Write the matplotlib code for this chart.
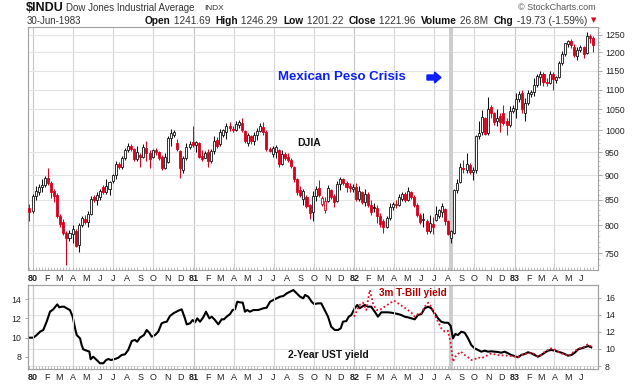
import matplotlib
matplotlib.use('Agg')
import matplotlib.pyplot as plt
import matplotlib.dates as mdates
import matplotlib.transforms as mtrans
from matplotlib.patches import FancyArrow
from matplotlib.ticker import FixedLocator, NullFormatter
import numpy as np
import pandas as pd

W, H, DPI = 638, 384, 100
plt.rcParams['font.family'] = ['Liberation Sans', 'DejaVu Sans']

# ---------------- data ----------------
week_start = '1979-12-24'   # weekly candles (bar plotted at week start)
opens = [834, 828, 858, 866, 876, 880, 894, 884, 868, 860, 818, 806, 786, 777, 784, 790, 764, 801, 812, 806,
         822, 855, 849, 856, 876, 865, 872, 887, 900, 923, 918, 936, 955, 964, 957, 934, 944, 940, 960, 948,
         940, 955, 950, 940, 915, 928, 982, 988, 970, 952, 912, 936, 962, 972, 966, 970, 942, 938, 950, 930,
         952, 978, 968, 990, 996, 1010, 1004, 1000, 1012, 1016, 998, 970, 986, 975, 990, 998, 1008, 996, 958, 945,
         950, 955, 924, 946, 940, 932, 918, 892, 870, 852, 856, 840, 826, 858, 874, 842, 830, 848, 870, 858,
         848, 882, 892, 884, 878, 872, 875, 852, 866, 846, 862, 840, 836, 833, 818, 808, 798, 814, 836, 842,
         840, 852, 862, 850, 866, 856, 840, 820, 810, 808, 790, 802, 810, 818, 826, 832, 808, 776, 786, 870,
         886, 916, 912, 922, 906, 910, 986, 995, 1028, 994, 1056, 1040, 1022, 1035, 1040, 1022, 1012, 1046, 1050, 1076,
         1090, 1040, 1066, 1088, 1094, 1112, 1134, 1142, 1120, 1118, 1142, 1126, 1132, 1170, 1196, 1224, 1232, 1216, 1190, 1206,
         1214, 1198, 1246, 1241.69]
highs = [842, 862, 878, 882, 892, 898, 916, 888, 872, 864, 822, 812, 790, 792, 801, 794, 805, 818, 820, 828,
         857, 860, 866, 872, 880, 891, 888, 903, 930, 928, 942, 960, 970, 968, 960, 963, 948, 968, 975, 955,
         958, 960, 952, 944, 948, 986, 1002, 1000, 980, 955, 942, 970, 974, 1010, 975, 972, 955, 952, 958, 958,
         986, 984, 1004, 1004, 1016, 1020, 1010, 1022, 1025, 1028, 1000, 994, 990, 996, 1005, 1016, 1020, 1000, 962, 964,
         966, 958, 955, 951, 948, 937, 920, 895, 878, 872, 860, 842, 868, 878, 890, 858, 856, 880, 872, 862,
         888, 896, 895, 888, 884, 882, 884, 878, 868, 872, 866, 850, 843, 840, 823, 812, 818, 843, 846, 850,
         862, 866, 866, 875, 868, 860, 843, 824, 823, 812, 820, 816, 837, 832, 843, 834, 810, 792, 872, 892,
         926, 933, 948, 926, 918, 990, 1022, 1048, 1032, 1080, 1062, 1044, 1050, 1042, 1060, 1030, 1058, 1062, 1092, 1096,
         1100, 1078, 1100, 1098, 1130, 1142, 1150, 1146, 1130, 1150, 1146, 1136, 1176, 1205, 1228, 1236, 1238, 1224, 1214, 1220,
         1218, 1258, 1252, 1246.29]
lows = [808, 824, 850, 860, 866, 876, 880, 854, 845, 815, 798, 782, 730, 772, 768, 760, 752, 798, 802, 797,
        820, 845, 839, 849, 862, 862, 860, 884, 893, 914, 914, 932, 950, 952, 930, 930, 918, 938, 930, 916,
        936, 944, 932, 911, 914, 926, 963, 984, 952, 894, 905, 933, 958, 962, 950, 936, 930, 936, 918, 926,
        945, 960, 964, 985, 980, 998, 996, 998, 1006, 996, 970, 963, 968, 966, 977, 996, 990, 952, 950, 940,
        938, 918, 922, 932, 928, 916, 885, 860, 855, 840, 834, 812, 808, 848, 855, 837, 823, 846, 852, 835,
        846, 869, 880, 866, 866, 866, 848, 848, 842, 838, 835, 820, 825, 804, 798, 786, 796, 810, 830, 834,
        838, 848, 846, 848, 852, 836, 816, 802, 798, 785, 786, 785, 808, 814, 816, 800, 782, 768, 784, 864,
        884, 904, 904, 902, 890, 905, 980, 988, 988, 990, 1030, 1012, 1010, 995, 1012, 990, 1008, 1040, 1030, 1068,
        1040, 1022, 1060, 1080, 1084, 1106, 1113, 1109, 1108, 1115, 1100, 1118, 1130, 1165, 1190, 1216, 1212, 1186, 1180, 1200,
        1184, 1196, 1226, 1201.22]
closes = [826, 858, 868, 876, 880, 894, 884, 866, 858, 818, 802, 786, 777, 786, 794, 763, 801, 815, 806, 822,
          852, 849, 860, 868, 865, 878, 886, 900, 924, 918, 936, 955, 964, 957, 934, 950, 940, 962, 948, 935,
          955, 950, 936, 915, 940, 982, 993, 996, 956, 916, 936, 962, 968, 966, 972, 940, 935, 947, 930, 952,
          975, 964, 996, 1000, 1010, 1005, 1000, 1015, 1020, 1000, 975, 988, 975, 990, 998, 1010, 996, 956, 953, 960,
          962, 924, 945, 936, 932, 920, 892, 866, 860, 868, 838, 824, 858, 872, 860, 854, 848, 874, 856, 845,
          882, 892, 884, 876, 874, 875, 852, 868, 846, 862, 840, 826, 833, 818, 802, 798, 814, 836, 842, 840,
          856, 862, 849, 868, 856, 840, 819, 806, 812, 790, 805, 798, 822, 829, 838, 808, 785, 790, 869, 884,
          918, 913, 925, 906, 912, 986, 993, 1031, 992, 1052, 1040, 1020, 1030, 1020, 1018, 1012, 1046, 1054, 1076, 1088,
          1052, 1066, 1090, 1094, 1112, 1136, 1140, 1120, 1118, 1140, 1128, 1132, 1170, 1196, 1226, 1232, 1220, 1192, 1206, 1216,
          1196, 1248, 1241.69, 1221.96]

# 2-Year UST yield (black, right scale), positions in decimal years
ust2_t = [1979.981, 1980.002, 1980.023, 1980.044, 1980.064, 1980.085, 1980.106, 1980.126, 1980.143, 1980.151,
          1980.164, 1980.179, 1980.193, 1980.210, 1980.230, 1980.247, 1980.262, 1980.272, 1980.293, 1980.303,
          1980.313, 1980.334, 1980.351, 1980.359, 1980.375, 1980.397, 1980.417, 1980.438, 1980.455, 1980.469,
          1980.486, 1980.511, 1980.531, 1980.552, 1980.573, 1980.593, 1980.615, 1980.635, 1980.649, 1980.666,
          1980.691, 1980.708, 1980.724, 1980.739, 1980.760, 1980.780, 1980.801, 1980.816, 1980.833, 1980.853,
          1980.874, 1980.905, 1980.926, 1980.946, 1980.957, 1980.978, 1980.994, 1981.009, 1981.023, 1981.040,
          1981.060, 1981.077, 1981.098, 1981.113, 1981.133, 1981.154, 1981.175, 1981.189, 1981.206, 1981.227,
          1981.243, 1981.258, 1981.272, 1981.289, 1981.306, 1981.320, 1981.334, 1981.351, 1981.372, 1981.403,
          1981.434, 1981.455, 1981.476, 1981.496, 1981.517, 1981.538, 1981.559, 1981.580, 1981.600, 1981.621,
          1981.642, 1981.663, 1981.683, 1981.694, 1981.714, 1981.735, 1981.750, 1981.776, 1981.795, 1981.816,
          1981.837, 1981.857, 1981.879, 1981.899, 1981.916, 1981.930, 1981.951, 1981.966, 1981.982, 1982.003,
          1982.019, 1982.034, 1982.049, 1982.065, 1982.086, 1982.106, 1982.128, 1982.148, 1982.169, 1982.190,
          1982.210, 1982.231, 1982.252, 1982.273, 1982.293, 1982.314, 1982.335, 1982.356, 1982.377, 1982.397,
          1982.418, 1982.439, 1982.460, 1982.480, 1982.501, 1982.522, 1982.542, 1982.564, 1982.584, 1982.601,
          1982.615, 1982.630, 1982.646, 1982.667, 1982.688, 1982.709, 1982.729, 1982.750, 1982.771, 1982.791,
          1982.813, 1982.833, 1982.854, 1982.875, 1982.895, 1982.916, 1982.937, 1982.958, 1982.978, 1982.999,
          1983.020, 1983.040, 1983.062, 1983.082, 1983.103, 1983.124, 1983.144, 1983.165, 1983.186, 1983.207,
          1983.227, 1983.248, 1983.269, 1983.290, 1983.311, 1983.331, 1983.352, 1983.373, 1983.394, 1983.414,
          1983.435, 1983.456, 1983.476]
ust2_v = [11.32, 11.32, 11.63, 12.02, 12.22, 13.19, 14.36, 14.64, 15.03, 15.22,
          14.87, 14.95, 14.95, 14.76, 14.56, 13.78, 12.41, 11.63, 11.24, 10.46,
          9.95, 9.80, 9.68, 8.79, 9.09, 8.70, 8.32, 8.32, 8.70, 8.82,
          8.70, 8.82, 8.97, 9.29, 9.37, 9.88, 10.93, 11.05, 10.85, 11.32,
          11.63, 12.22, 11.90, 11.43, 11.63, 12.02, 13.00, 13.12, 13.19, 13.86,
          14.17, 14.48, 14.64, 13.58, 12.88, 13.00, 13.39, 13.12, 13.58, 13.19,
          13.70, 14.36, 13.58, 13.78, 13.39, 12.88, 13.47, 13.47, 13.78, 14.09,
          14.56, 14.64, 15.53, 15.46, 15.42, 14.36, 14.56, 14.36, 14.56, 14.56,
          14.76, 14.83, 15.53, 15.73, 15.93, 16.12, 16.20, 16.51, 16.70, 16.90,
          16.51, 16.12, 15.93, 16.32, 16.12, 15.53, 15.26, 15.34, 15.34, 14.56,
          13.78, 12.60, 12.22, 12.22, 12.41, 13.19, 13.27, 13.78, 13.97, 14.76,
          15.15, 14.76, 14.95, 15.15, 14.95, 14.95, 14.36, 13.78, 14.29, 14.29,
          14.29, 14.25, 14.17, 14.09, 13.97, 13.78, 13.70, 13.58, 13.47, 13.97,
          14.09, 14.76, 14.95, 14.76, 14.17, 13.58, 13.19, 13.07, 13.07, 12.69,
          11.24, 11.75, 11.63, 12.02, 11.90, 11.24, 10.46, 10.07, 9.88, 9.68,
          9.80, 9.68, 9.72, 9.68, 9.64, 9.56, 9.68, 9.49, 9.29, 9.17,
          9.02, 9.29, 9.41, 9.61, 9.49, 9.29, 9.09, 9.29, 9.56, 9.80,
          9.88, 9.80, 9.68, 9.56, 9.41, 9.21, 9.29, 9.56, 9.95, 10.07,
          10.19, 10.34, 10.19]

# 3-month T-Bill yield (red dotted, left scale)
tbill_t = [1981.999, 1982.019, 1982.034, 1982.055, 1982.075, 1982.097, 1982.117, 1982.138, 1982.159, 1982.190,
           1982.221, 1982.248, 1982.273, 1982.304, 1982.335, 1982.356, 1982.377, 1982.397, 1982.418, 1982.439,
           1982.460, 1982.480, 1982.501, 1982.522, 1982.542, 1982.564, 1982.584, 1982.601, 1982.615, 1982.630,
           1982.646, 1982.663, 1982.688, 1982.709, 1982.729, 1982.750, 1982.771, 1982.791, 1982.813, 1982.833,
           1982.854, 1982.875, 1982.895, 1982.916, 1982.937, 1982.958, 1982.978, 1982.999, 1983.020, 1983.040,
           1983.062, 1983.082, 1983.103, 1983.124, 1983.144, 1983.165, 1983.186, 1983.207, 1983.227, 1983.248,
           1983.269, 1983.290, 1983.311, 1983.331, 1983.352, 1983.373, 1983.394, 1983.414, 1983.435, 1983.456,
           1983.476]
tbill_v = [12.18, 12.88, 13.40, 13.65, 12.88, 14.97, 13.58, 12.88, 12.88, 13.23,
           13.58, 13.86, 13.58, 13.23, 12.88, 12.60, 12.18, 12.46, 12.53, 13.23,
           13.65, 13.23, 12.36, 11.66, 10.97, 10.62, 10.72, 9.40, 7.48, 8.01,
           8.28, 8.53, 8.18, 7.94, 7.66, 7.73, 7.94, 7.83, 8.01, 8.18,
           8.35, 8.25, 8.18, 8.11, 8.18, 8.08, 8.08, 8.01, 7.94, 8.18,
           8.35, 8.28, 8.42, 8.28, 8.01, 8.18, 8.53, 8.70, 8.88, 8.77,
           8.53, 8.35, 8.28, 8.08, 8.28, 8.63, 8.77, 8.98, 9.05, 9.33,
           9.05]

price_ticks = [750, 800, 850, 900, 950, 1000, 1050, 1100, 1150, 1200, 1250]
ust2_ticks = [8, 10, 12, 14, 16]
tbill_ticks = [8, 10, 12, 14]
month_letters = ['J', 'F', 'M', 'A', 'M', 'J', 'J', 'A', 'S', 'O', 'N', 'D']
crisis_span = ('1982-08-04', '1982-08-13')

header_pieces = [("Open", 'bold'), (" 1241.69  ", 'normal'), ("High", 'bold'), (" 1246.29  ", 'normal'),
                 ("Low", 'bold'), (" 1201.22  ", 'normal'), ("Close", 'bold'), (" 1221.96  ", 'normal'),
                 ("Volume", 'bold'), (" 26.8M  ", 'normal'), ("Chg", 'bold'), (" -19.73 (-1.59%) ", 'normal')]

# ---------------- helpers ----------------
RED = '#d9001b'
GRID = '#e3e3e3'
VGRID = '#d6d6d6'
SPINE = '#a0a0a0'
TXT = '#222222'


def yr2num(t):
    t = np.asarray(t, float)
    base = pd.Timestamp('1980-01-01')
    d = base + pd.to_timedelta((t - 1980.0) * 365.25, unit='D')
    return mdates.date2num(pd.DatetimeIndex(d).to_pydatetime())


def fx(x):
    return x / W


def fy(y):
    return 1 - y / H


fig = plt.figure(figsize=(W / DPI, H / DPI), dpi=DPI)
fig.patch.set_facecolor('white')

ax1 = fig.add_axes([fx(28), fy(270), (598 - 28) / W, (270 - 27) / H])
ax2 = fig.add_axes([fx(28), fy(369), (598 - 28) / W, (369 - 285) / H])
ax2r = ax2.twinx()

xl = yr2num([1979.9689, 1983.518])

# month ticks
months = pd.date_range('1980-01-01', '1983-06-01', freq='MS')
mnum = mdates.date2num(months.to_pydatetime())
mlab = [('%02d' % (d.year % 100)) if d.month == 1 else month_letters[d.month - 1] for d in months]
quarters = [m for m, d in zip(mnum, months) if d.month in (1, 4, 7, 10)]
years = [m for m, d in zip(mnum, months) if d.month == 1]

dates = pd.date_range(week_start, periods=len(closes), freq='W-MON')
xw = mdates.date2num(dates.to_pydatetime())


def style_x(ax):
    ax.set_xlim(*xl)
    ax.set_xticks(mnum)
    ax.set_xticklabels(mlab)
    for lab, d in zip(ax.get_xticklabels(), months):
        lab.set_fontsize(6.5)
        lab.set_color(TXT)
        if d.month == 1:
            lab.set_fontweight('bold')
    ax.tick_params(axis='x', which='major', length=0, pad=3)
    ax.xaxis.set_minor_locator(FixedLocator(list(xw)))
    ax.tick_params(axis='x', which='minor', length=2, width=0.6, color='#b0b0b0', direction='in')
    for v in quarters:
        ax.axvline(v, color=VGRID if v not in years else '#c6c6c6', lw=0.8, zorder=0)
    for s in ax.spines.values():
        s.set_color(SPINE)
        s.set_linewidth(0.8)


# ---------------- main panel ----------------
ax1.set_yscale('log')
ax1.set_ylim(720.8, 1273.5)
style_x(ax1)
ax1.yaxis.tick_right()
ax1.yaxis.set_major_locator(FixedLocator(price_ticks))
ax1.set_yticklabels([str(v) for v in price_ticks])
ax1.yaxis.set_minor_locator(FixedLocator([v for v in range(730, 1271, 10) if v % 50]))
ax1.yaxis.set_minor_formatter(NullFormatter())
ax1.tick_params(axis='y', which='major', length=3, width=0.6, color='#999', labelsize=6.3,
                labelcolor=TXT, pad=2)
ax1.tick_params(axis='y', which='minor', length=1.5, width=0.5, color='#bbb')
for v in price_ticks:
    ax1.axhline(v, color=GRID, lw=0.8, zorder=0)
ax1.axvspan(*[mdates.datestr2num(s) for s in crisis_span], color='#cdcdcd', lw=0, zorder=0.5)

o = np.array(opens, float)
hh = np.array(highs, float)
ll = np.array(lows, float)
c = np.array(closes, float)
prev = np.r_[o[0], c[:-1]]
col = np.where(c >= prev, '#111111', RED)
fill = np.where(c < o, col, '#ffffff')
ax1.vlines(xw, ll, hh, colors=col, lw=0.75, zorder=3)
ax1.bar(xw, np.maximum(np.abs(c - o), 0.5), bottom=np.minimum(o, c), width=4.6,
        color=fill, edgecolor=col, linewidth=0.6, zorder=4)

# ---------------- lower panel ----------------
ax2r.set_zorder(ax2.get_zorder() - 1)
ax2.patch.set_visible(False)
ax2r.patch.set_visible(True)
ax2r.patch.set_facecolor('white')
style_x(ax2)
ax2.set_ylim(6.72, 15.49)
ax2r.set_ylim(7.65, 17.49)
ax2r.set_xlim(*xl)
ax2.yaxis.set_major_locator(FixedLocator(tbill_ticks))
ax2.set_yticklabels([str(v) for v in tbill_ticks])
ax2r.yaxis.set_major_locator(FixedLocator(ust2_ticks))
ax2r.set_yticklabels([str(v) for v in ust2_ticks])
ax2.tick_params(axis='y', length=2, width=0.6, color='#999', labelsize=6.3, labelcolor=TXT, pad=3)
ax2r.tick_params(axis='y', length=2, width=0.6, color='#999', labelsize=6.3, labelcolor=TXT, pad=3)
for v in ust2_ticks:
    ax2r.axhline(v, color=GRID, lw=0.8, zorder=0)
for v in quarters:
    ax2r.axvline(v, color=VGRID if v not in years else '#c6c6c6', lw=0.8, zorder=0)
ax2r.axvspan(*[mdates.datestr2num(s) for s in crisis_span], color='#cdcdcd', lw=0, zorder=0.5)
for s in ax2r.spines.values():
    s.set_color(SPINE)
    s.set_linewidth(0.8)

ax2r.plot(yr2num(ust2_t), ust2_v, color='#000000', lw=1.5, zorder=3, solid_joinstyle='round')
ax2.plot(yr2num(tbill_t), tbill_v, color='#e8102a', lw=1.3, ls=(0, (1, 1.3)), zorder=4)

# ---------------- texts ----------------
fig.text(fx(26), fy(8), "$INDU", fontsize=9, fontweight='bold', color='#111', va='center', ha='left')
fig.text(fx(66), fy(8), "Dow Jones Industrial Average", fontsize=7, color='#333', va='center', ha='left')
fig.text(fx(204), fy(8.3), "INDX", fontsize=6, color='#333', va='center', ha='left')
fig.text(fx(27), fy(20.5), "30-Jun-1983", fontsize=7, color='#333', va='center', ha='left')
fig.text(fx(596), fy(7.5), "\u00a9 StockCharts.com", fontsize=6.5, color='#555', va='center', ha='right')

renderer = fig.canvas.get_renderer()
hdr_start, hdr_end = 147.0, 590.0
objs = [fig.text(0, 0, s, fontsize=7, fontweight=w, color='#111' if w == 'bold' else '#333',
                 va='center', ha='left') for s, w in header_pieces]
total = sum(t.get_window_extent(renderer).width for t in objs)
scale = (hdr_end - hdr_start) / total
for t in objs:
    t.set_fontsize(7 * scale)
widths = [t.get_window_extent(renderer).width for t in objs]
xpos = hdr_end - sum(widths)
for t, wd in zip(objs, widths):
    t.set_position((fx(xpos), fy(20.5)))
    xpos += wd
fig.text(fx(594), fy(20.5), "\u25bc", fontsize=5, color=RED, va='center', ha='center',
         family=['DejaVu Sans'])

fig.text(fx(278), fy(77.5), "Mexican Peso Crisis", fontsize=9.5, fontweight='bold',
         color='#0a1eff', va='center', ha='left')
fig.add_artist(FancyArrow(427, H - 77.5, 14, 0, width=5, head_width=11, head_length=6.5,
                          length_includes_head=True, color='#0a1eff',
                          transform=mtrans.IdentityTransform()))
fig.text(fx(309), fy(143), "DJIA", fontsize=7.5, fontweight='bold', color='#111', va='center', ha='center')
fig.text(fx(379), fy(293.5), "3m T-Bill yield", fontsize=7.2, fontweight='bold', color='#b00000',
         va='center', ha='left')
fig.text(fx(288), fy(354.5), "2-Year UST yield", fontsize=7.4, fontweight='bold', color='#111',
         va='center', ha='left')

fig.savefig('out.png', dpi=DPI, facecolor='white')
